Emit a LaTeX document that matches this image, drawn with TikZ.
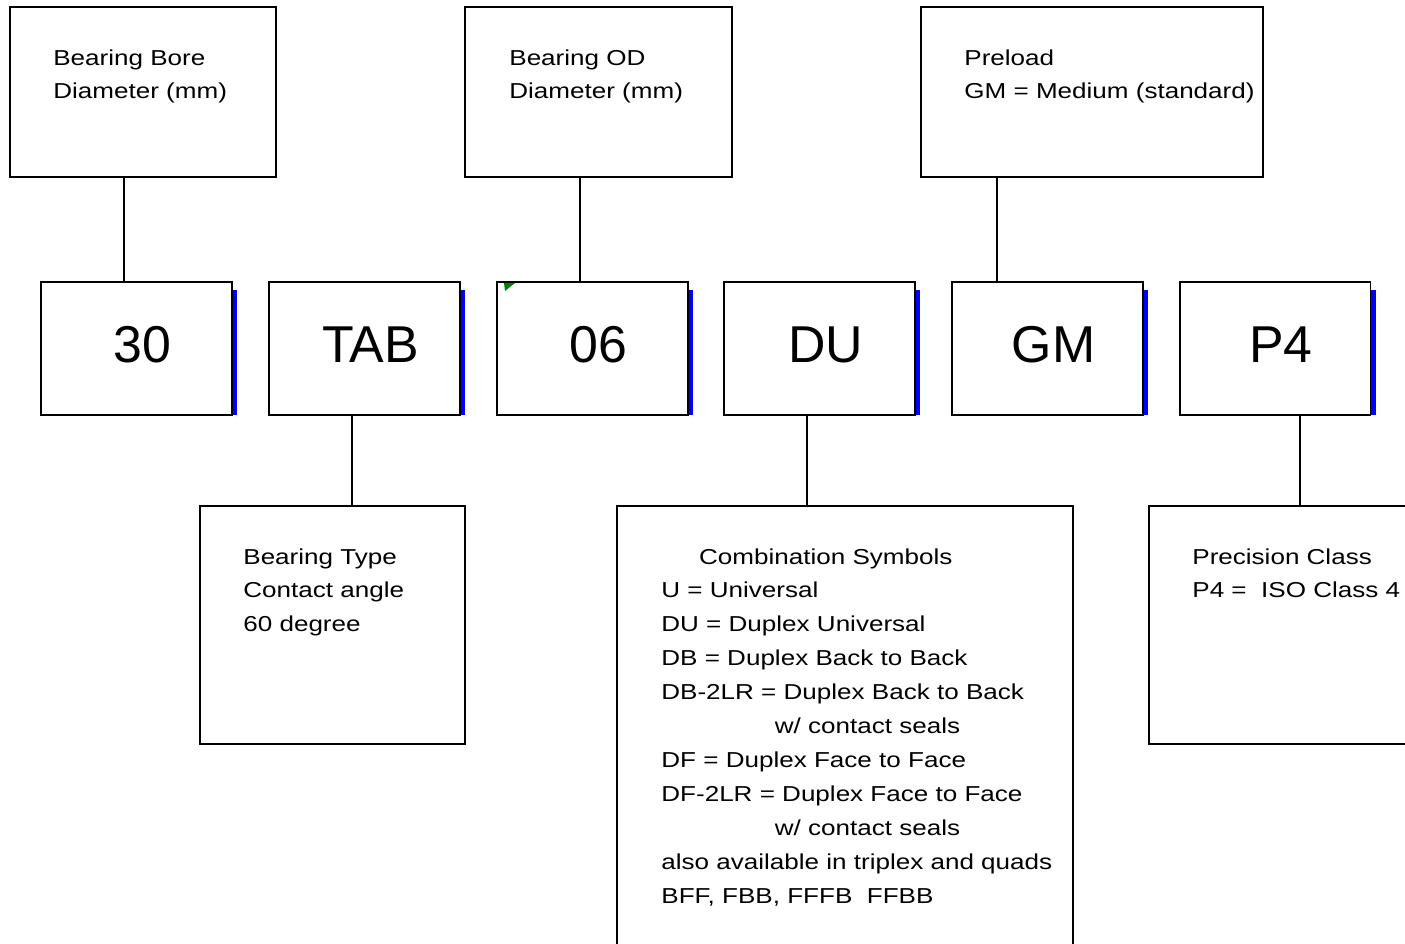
\documentclass[tikz,border=0pt]{standalone}
\usepackage{fontspec}
\setmainfont{Liberation Sans}
\newfontfamily\boxfont[FakeStretch=1.205]{Liberation Sans}
\tikzset{
  infobox/.style={draw,line width=1.1pt,inner sep=0pt,outer sep=0pt},
  codebox/.style={draw,line width=1.1pt,inner sep=0pt,outer sep=0pt,
    minimum width=3.82cm,minimum height=2.66cm},
  infotext/.style={inner sep=0pt,anchor=north west,align=left,
    font=\boxfont\fontsize{12.3}{19.3}\selectfont},
  codetext/.style={inner sep=0pt,font=\fontsize{29.5}{34}\selectfont},
  link/.style={line width=1.1pt},
  bar/.style={fill=blue}
}
\begin{document}
\begin{tikzpicture}[x=0.02cm,y=-0.02cm]
\useasboundingbox (0,0) rectangle (1405,943);
% top row
\node[infobox,minimum width=5.32cm,minimum height=3.4cm] (bore) at (143,92) {};
\node[infotext] (boretxt) at ([shift={(43,42)}]bore.north west) {Bearing Bore\\Diameter (mm)};
\node[infobox,minimum width=5.34cm,minimum height=3.4cm] (od) at (598.5,92) {};
\node[infotext] (odtxt) at ([shift={(44,42)}]od.north west) {Bearing OD\\Diameter (mm)};
\node[infobox,minimum width=6.84cm,minimum height=3.4cm] (preload) at (1092,92) {};
\node[infotext] (preloadtxt) at ([shift={(43,42)}]preload.north west) {Preload\\GM = Medium (standard)};
% code row
\foreach \n/\x/\t in {c30/136.5/30,cTAB/364.5/TAB,c06/592.5/06,cDU/819.5/DU,cGM/1047.5/GM,cP4/1275/P4} {
  \fill[bar] (\x+95.5,290) rectangle (\x+100.5,415);
  \node[codebox] (\n) at (\x,348.5) {};
  \node[codetext] (\n txt) at (\x+6,345) {\t};
}
\fill[green!50!black] (504,283) -- (515,283) -- (505,291) -- cycle;
% bottom row
\node[infobox,minimum width=5.3cm,minimum height=4.76cm] (type) at (332.5,625) {};
\node[infotext] (typetxt) at ([shift={(43,42)}]type.north west) {Bearing Type\\Contact angle\\60 degree};
\node[infobox,minimum width=9.12cm,minimum height=9.08cm] (combo) at (845,733) {};
\node[infotext] (combotxt) at ([shift={(44,42)}]combo.north west) {\hspace*{21.5pt}Combination Symbols\\
U = Universal\\
DU = Duplex Universal\\
DB = Duplex Back to Back\\
DB-2LR = Duplex Back to Back\\
\hspace*{64.6pt}w/ contact seals\\
DF = Duplex Face to Face\\
DF-2LR = Duplex Face to Face\\
\hspace*{64.6pt}w/ contact seals\\
also available in triplex and quads\\
BFF, FBB, FFFB\ \ FFBB};
\node[infobox,minimum width=5.42cm,minimum height=4.76cm] (prec) at (1284.5,625) {};
\node[infotext] (prectxt) at ([shift={(43,42)}]prec.north west) {Precision Class\\P4 =\ \ ISO Class 4};
% connectors
\draw[link] ([shift={(-19,0)}]bore.south) coordinate (k1) -- (k1 |- c30.north);
\draw[link] ([shift={(-18.5,0)}]od.south) coordinate (k2) -- (k2 |- c06.north);
\draw[link] ([shift={(-95,0)}]preload.south) coordinate (k3) -- (k3 |- cGM.north);
\draw[link] ([shift={(-12.5,0)}]cTAB.south) coordinate (k4) -- (k4 |- type.north);
\draw[link] ([shift={(-12.5,0)}]cDU.south) coordinate (k5) -- (k5 |- combo.north);
\draw[link] ([shift={(25,0)}]cP4.south) coordinate (k6) -- (k6 |- prec.north);
\end{tikzpicture}
\end{document}
